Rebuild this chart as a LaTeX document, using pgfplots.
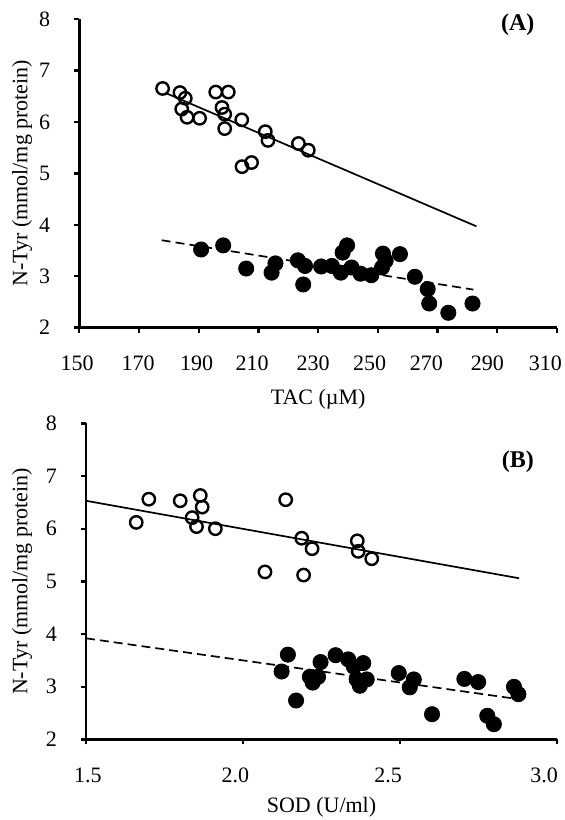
\documentclass[border=0pt]{standalone}
\usepackage{fontspec}
\setmainfont{Liberation Serif}
\usepackage{pgfplots}
\pgfplotsset{compat=1.18}

% tick labels sit slightly left of their ticks in the original;
% a kern of -2d in front of a centred label moves it by -d
\newcommand\lab[2]{\hspace*{#1}#2}

\pgfplotsset{
  ntyr/.style={
    scale only axis,
    axis x line*=bottom, axis y line*=left,
    axis line style={line width=1.3pt, -},
    tick align=outside,
    major tick length=2.5pt,
    tick style={line width=1.2pt, black},
    /pgf/number format/assume math mode=true,
    xticklabel style={yshift=-8pt},
    yticklabel style={xshift=-8.5pt},
    ymin=2, ymax=8, ytick={2,3,...,8},
    clip=false,
    ylabel={N-Tyr (mmol/mg protein)},
  },
  open/.style={only marks, mark=o, mark size=3.1pt, mark options={line width=1.2pt, black}},
  filled/.style={only marks, mark=*, mark size=3.8pt, mark options={draw=none, fill=black}},
  fitline/.style={black, line width=0.85pt, no marks},
}

\begin{document}
\begin{tikzpicture}[font=\fontsize{11}{13}\selectfont]
\path[use as bounding box] (0,0) rectangle (282pt,410pt);

% (A) N-Tyr against TAC
\begin{axis}[ntyr,
    at={(39.65pt,246.15pt)}, anchor=south west,
    width=238.85pt, height=154.35pt,
    xmin=150, xmax=310, xtick={150,170,...,310},
    xticklabels={\lab{-2.2pt}{150}, \lab{-1pt}{170}, \lab{-2pt}{190}, \lab{-6.2pt}{210},
                 \lab{-5pt}{230}, \lab{-8.2pt}{250}, \lab{-11.2pt}{270}, \lab{-10pt}{290}, \lab{-11.6pt}{310}},
    xlabel={TAC (µM)},
    every axis x label/.style={at={(axis description cs:0.5,0)}, anchor=center, yshift=-35.8pt},
    every axis y label/.style={at={(axis description cs:-0.1197,0.5)}, rotate=90, anchor=center},
]
% control
\addplot[open] coordinates {
  (177.9,6.65) (183.7,6.57) (185.5,6.46) (184.3,6.25) (186.1,6.09) (190.3,6.07)
  (195.7,6.58) (199.9,6.58) (197.8,6.28) (198.7,6.15) (198.7,5.87) (204.4,6.04)
  (212.3,5.81) (213.2,5.64) (223.4,5.58) (226.7,5.45) (204.5,5.13) (207.7,5.21)
};
\addplot[filled] coordinates {
  (190.8,3.52) (198.2,3.60) (205.9,3.15) (214.4,3.07) (215.7,3.25) (223.2,3.31)
  (225.6,3.20) (225.0,2.84) (231.0,3.19) (234.6,3.20) (237.6,3.07) (238.2,3.46)
  (239.7,3.60) (241.2,3.17) (244.2,3.05) (247.8,3.02) (251.4,3.17) (251.7,3.44)
  (252.6,3.30) (257.4,3.43) (262.4,2.99) (266.7,2.75) (267.2,2.47) (273.6,2.29)
  (281.7,2.47)
};
\addplot[fitline] coordinates {(179,6.56) (283,3.97)};
\addplot[fitline, dash pattern=on 4.5pt off 2.5pt] coordinates {(177.6,3.70) (282,2.74)};
\node[font=\bfseries\fontsize{12}{14}\selectfont] at (rel axis cs:0.918,0.981) {(A)};
\end{axis}

% (B) N-Tyr against SOD
\begin{axis}[ntyr,
    at={(43pt,40.25pt)}, anchor=south west,
    width=235.5pt, height=158.1pt,
    xmin=1.5, xmax=3.0, xtick={1.5,2.0,2.5,3.0},
    xticklabels={\lab{2pt}{1.5}, \lab{-7.6pt}{2.0}, \lab{-12pt}{2.5}, \lab{-13pt}{3.0}},
    xlabel={SOD (U/ml)},
    every axis x label/.style={at={(axis description cs:0.5,0)}, anchor=center, yshift=-34pt},
    every axis y label/.style={at={(axis description cs:-0.1359,0.5)}, rotate=90, anchor=center},
]
\addplot[open] coordinates {
  (1.66,6.12) (1.70,6.56) (1.80,6.53) (1.864,6.63) (1.870,6.41) (1.838,6.21)
  (1.852,6.04) (1.912,6.00) (2.136,6.55) (2.187,5.82) (2.220,5.62) (2.070,5.18)
  (2.193,5.12) (2.364,5.77) (2.367,5.57) (2.410,5.43)
};
\addplot[filled] coordinates {
  (2.143,3.61) (2.123,3.29) (2.169,2.74) (2.213,3.19) (2.222,3.08) (2.239,3.19)
  (2.247,3.47) (2.295,3.60) (2.335,3.52) (2.353,3.38) (2.383,3.45) (2.362,3.14)
  (2.372,3.02) (2.394,3.14) (2.496,3.26) (2.544,3.14) (2.531,2.99) (2.602,2.48)
  (2.705,3.15) (2.749,3.09) (2.778,2.45) (2.799,2.29) (2.863,3.00) (2.877,2.86)
};
\addplot[fitline] coordinates {(1.5,6.53) (2.879,5.06)};
\addplot[fitline, dash pattern=on 4.5pt off 2.5pt] coordinates {(1.5,3.92) (2.884,2.76)};
\node[font=\bfseries\fontsize{12}{14}\selectfont] at (rel axis cs:0.917,0.878) {(B)};
\end{axis}
\end{tikzpicture}
\end{document}
